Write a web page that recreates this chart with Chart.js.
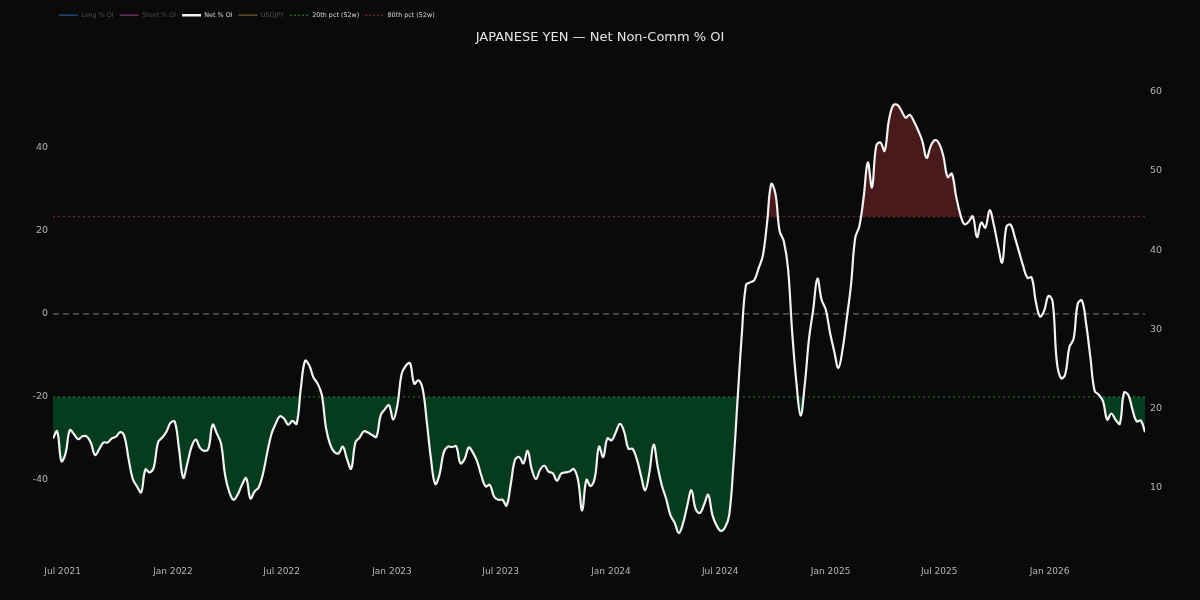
<!DOCTYPE html>
<html>
<head>
<meta charset="utf-8">
<title>JAPANESE YEN - Net Non-Comm % OI</title>
<script src="https://cdn.jsdelivr.net/npm/chart.js@4.4.1/dist/chart.umd.min.js"></script>
<style>
  html, body { margin: 0; padding: 0; background: #0a0a0a; }
  #wrap { width: 1200px; height: 600px; position: relative; }
</style>
</head>
<body>
<div id="wrap"><canvas id="cotChart"></canvas></div>
<script>
// --- data (weekly COT reports) ---
const START_DATE = Date.UTC(2021, 5, 15);   // first report, Tue 15 Jun 2021
const WEEK_MS = 7 * 24 * 3600 * 1000;

// Net non-commercial positioning, % of open interest
const netOI = [
  -30, -28.3, -35.5, -33.6, -28, -29, -30.2, -29.5, -29.5, -31,
  -34, -32.6, -31, -31, -30, -29.6, -28.5, -29.5, -35, -39.8,
  -41.6, -43, -37.5, -38.2, -37, -31, -29.8, -28.4, -26.2, -26,
  -32.5, -39.5, -36, -32, -30.3, -32.3, -33, -32.5, -26.7, -28.8,
  -31.2, -39, -43, -44.8, -43.5, -41.2, -39.6, -44.5, -42.8, -41.8,
  -38.5, -33.5, -29, -26.5, -24.7, -25.2, -26.7, -25.8, -26.5, -18,
  -11.3, -12.4, -15.3, -16.8, -19.5, -27.5, -31.5, -33.3, -33.6, -32,
  -35, -37.3, -31, -29.8, -28.3, -28.6, -29.2, -29.6, -24.5, -23,
  -22, -25.5, -22, -14.5, -12.5, -11.9, -16.8, -16, -18, -26,
  -35, -41, -38.8, -33.5, -32, -32.1, -31.9, -36, -35, -32.2,
  -33.5, -35.6, -39, -41.6, -41.2, -44, -44.8, -44.8, -46.2, -41,
  -35.2, -34.5, -36, -33, -37.5, -39.8, -37.5, -36.6, -38, -38.4,
  -40.2, -38.5, -38.2, -38, -37.4, -40, -47.4, -40, -41.5, -39.5,
  -32, -34.5, -30, -30.5, -28.5, -26.5, -28.4, -32.5, -32.5, -35,
  -39, -42.5, -38.2, -31.5, -37, -41.5, -44.6, -48.5, -50.3, -52.8,
  -50.5, -46.3, -42.5, -47, -48, -46, -43.6, -48.5, -51, -52.3,
  -51.5, -48.5, -36.5, -20.5, -5, 7, 7.6, 8.2, 11, 14,
  21.8, 31.3, 29, 20, 17.5, 11, -4.5, -16.5, -24.5, -17,
  -6, 1, 8.5, 3.4, 1, -4.5, -9, -13, -8.5, -1,
  7, 18.3, 21.2, 28, 36.5, 30.5, 40.5, 41.3, 39.3, 46.5,
  50.2, 50.4, 49, 47.3, 48, 46.4, 44.2, 41.6, 37.6, 40.5,
  41.9, 41, 38, 33, 33.8, 28.5, 24.1, 21.6, 22.2, 23.5,
  18.5, 22, 20.8, 25, 21.5, 16.5, 12.4, 21, 21.5, 18.5,
  15, 11.5, 8.7, 8.8, 3, -0.6, 0.8, 4.3, 3, -11.5,
  -15.5, -14.6, -8, -6, 2.5, 3.2, -2.5, -10.5, -18.5, -19.5,
  -21, -25.5, -24, -25.5, -26.5, -19, -19.5, -23, -25.9, -25.7,
  -28.5
];

// report dates (categories)
const weekDates = netOI.map((v, i) => START_DATE + i * WEEK_MS);

// 52-week percentile bands
const pct20 = -20;
const pct80 = 23.4;

// axis ticks
const xTickDates = ['2021-07-01', '2022-01-01', '2022-07-01', '2023-01-01', '2023-07-01',
                    '2024-01-01', '2024-07-01', '2025-01-01', '2025-07-01', '2026-01-01'];
const xTickLabels = ['Jul 2021', 'Jan 2022', 'Jul 2022', 'Jan 2023', 'Jul 2023',
                     'Jan 2024', 'Jul 2024', 'Jan 2025', 'Jul 2025', 'Jan 2026'];
const leftTicks = [-40, -20, 0, 20, 40];
const rightTicks = [10, 20, 30, 40, 50, 60];

// --- build chart ---
const xMin = weekDates[0];
const xMax = weekDates[weekDates.length - 1];
const netPoints = netOI.map((v, i) => ({ x: weekDates[i], y: v }));
const flat = y => [{ x: xMin, y: y }, { x: xMax, y: y }];

const GREEN_FILL = 'rgb(6, 60, 30)';
const RED_FILL = 'rgb(72, 26, 28)';
const dimText = '#4e4e4e';
const liveText = '#d8d8d8';
const tickColor = '#b4b4b4';

const bgPlugin = {
    id: 'bg',
    beforeDraw(chart) {
        const c = chart.ctx;
        c.save();
        c.fillStyle = '#0a0a0a';
        c.fillRect(0, 0, chart.width, chart.height);
        c.restore();
    }
};

new Chart(document.getElementById('cotChart'), {
    type: 'line',
    data: {
        datasets: [
            { label: 'Long % OI', data: [], borderColor: 'rgb(30,90,140)', borderWidth: 1 },
            { label: 'Short % OI', data: [], borderColor: 'rgb(130,50,110)', borderWidth: 1 },
            {
                label: 'Net % OI',
                data: netPoints,
                borderColor: '#f2f2f2',
                borderWidth: 2.2,
                tension: 0.4,
                fill: { target: { value: pct20 }, above: 'rgba(0,0,0,0)', below: GREEN_FILL }
            },
            { label: 'USDJPY', data: [], borderColor: 'rgb(120,90,35)', borderWidth: 1, yAxisID: 'y2' },
            { label: '20th pct (52w)', data: flat(pct20), borderColor: 'rgba(50,170,60,0.75)', borderWidth: 1, borderDash: [2, 3] },
            { label: '80th pct (52w)', data: flat(pct80), borderColor: 'rgba(185,65,65,0.7)', borderWidth: 1, borderDash: [2, 3] },
            // extreme-long shading (same net series, fill only)
            {
                label: '_fill80',
                data: netPoints,
                borderWidth: 0,
                borderColor: 'rgba(0,0,0,0)',
                tension: 0.4,
                fill: { target: { value: pct80 }, above: RED_FILL, below: 'rgba(0,0,0,0)' }
            },
            { label: '_zero', data: flat(0), borderColor: '#6a6a6a', borderWidth: 1.2, borderDash: [6, 4] }
        ]
    },
    options: {
        responsive: true,
        maintainAspectRatio: false,
        animation: false,
        layout: { padding: { top: 6, left: 0, right: 0, bottom: 0 } },
        elements: { point: { radius: 0 } },
        plugins: {
            filler: { drawTime: 'beforeDatasetsDraw' },
            tooltip: { enabled: false },
            legend: {
                position: 'top',
                align: 'start',
                fullSize: false,
                weight: 3000,
                labels: {
                    usePointStyle: true,
                    pointStyle: 'line',
                    pointStyleWidth: 19,
                    padding: 6,
                    font: { family: 'DejaVu Sans', size: 6.4 },
                    filter: item => !item.text.startsWith('_'),
                    generateLabels: function (chart) {
                        const items = Chart.defaults.plugins.legend.labels.generateLabels(chart);
                        return items.map(it => {
                            const ds = chart.data.datasets[it.datasetIndex];
                            const live = ['Net % OI', '20th pct (52w)', '80th pct (52w)'].includes(it.text);
                            it.fontColor = live ? liveText : dimText;
                            it.strokeStyle = ds.borderColor;
                            it.lineDash = ds.borderDash ? [2, 2] : [];
                            it.lineWidth = it.text === 'Net % OI' ? 2.5 : 1.2;
                            it.hidden = false;
                            return it;
                        });
                    }
                }
            },
            title: {
                display: true,
                text: 'JAPANESE YEN — Net Non-Comm % OI',
                color: '#e6e6e6',
                font: { family: 'DejaVu Sans', size: 13, weight: 'normal' },
                padding: { top: 1, bottom: 15 }
            }
        },
        scales: {
            x: {
                type: 'linear',
                min: xMin,
                max: xMax,
                grid: { display: false, drawTicks: false },
                border: { display: false },
                afterBuildTicks: s => { s.ticks = xTickDates.map(d => ({ value: Date.parse(d) })); },
                afterFit: s => { s.height = 55; },
                ticks: {
                    color: tickColor,
                    padding: 21,
                    maxRotation: 0,
                    autoSkip: false,
                    font: { family: 'DejaVu Sans', size: 9 },
                    callback: (v, i) => xTickLabels[i]
                }
            },
            y: {
                position: 'left',
                min: -55.7,
                max: 61.2,
                grid: { display: false, drawTicks: false },
                border: { display: false },
                afterBuildTicks: s => { s.ticks = leftTicks.map(v => ({ value: v })); },
                afterFit: s => { s.width = 53; },
                ticks: { color: tickColor, padding: 5, font: { family: 'DejaVu Sans', size: 9.5 } }
            },
            y2: {
                position: 'right',
                min: 2.8,
                max: 64.0,
                grid: { display: false, drawTicks: false },
                border: { display: false },
                afterBuildTicks: s => { s.ticks = rightTicks.map(v => ({ value: v })); },
                afterFit: s => { s.width = 55; },
                ticks: { color: tickColor, padding: 5, font: { family: 'DejaVu Sans', size: 9.5 } }
            }
        }
    },
    plugins: [bgPlugin]
});
</script>
</body>
</html>
